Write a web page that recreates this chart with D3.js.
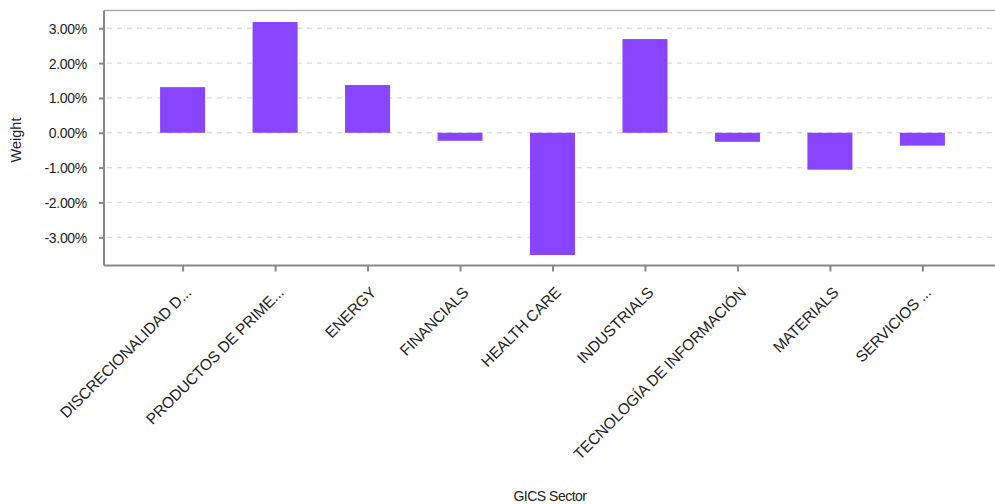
<!DOCTYPE html>
<html><head><meta charset="utf-8">
<script src="https://cdn.jsdelivr.net/npm/d3@7"></script>
<style>body{margin:0;background:#fff}svg{display:block}text{font-family:"Liberation Sans",Arial,sans-serif;fill:#222}</style>
</head><body>
<svg id="c" width="995" height="504"></svg>
<script>
const categories = ["DISCRECIONALIDAD D...","PRODUCTOS DE PRIME...","ENERGY","FINANCIALS","HEALTH CARE","INDUSTRIALS","TECNOLOGÍA DE INFORMACIÓN","MATERIALS","SERVICIOS ..."];
const weights = [1.31, 3.18, 1.37, -0.23, -3.51, 2.69, -0.26, -1.06, -0.37];
const yTicks = [3, 2, 1, 0, -1, -2, -3];

const svg = d3.select("#c");
const mLeft = 104, mRight = 1001, mTop = 10.5, mBottom = 265.5;
const x = d3.scalePoint().domain(categories).range([mLeft, mRight]).padding(0.85);
const y = d3.scaleLinear().domain([-3.81, 3.51]).range([mBottom, mTop]);
const barW = 45;

// grid
svg.append("g").selectAll("line").data(yTicks).join("line")
  .attr("x1", mLeft + 3).attr("x2", 995)
  .attr("y1", d => y(d)).attr("y2", d => y(d))
  .attr("stroke", "#dcdcdc").attr("stroke-width", 1.3).attr("stroke-dasharray", "5,5");

// top border
svg.append("line").attr("x1", mLeft).attr("x2", 995).attr("y1", mTop).attr("y2", mTop)
  .attr("stroke", "#aaa").attr("stroke-width", 1.5);

// bars
svg.append("g").selectAll("rect").data(weights).join("rect")
  .attr("x", (d, i) => x(categories[i]) - barW / 2)
  .attr("width", barW)
  .attr("y", d => y(Math.max(0, d)))
  .attr("height", d => Math.abs(y(d) - y(0)))
  .attr("fill", "#8844ff");

// y axis
const ya = svg.append("g").attr("transform", `translate(${mLeft},0)`)
  .call(d3.axisLeft(y).tickValues(yTicks).tickSize(5).tickPadding(12).tickFormat(d => d.toFixed(2) + "%"));
ya.select(".domain").attr("stroke", "#888").attr("stroke-width", 2).attr("d", `M0,${mTop}V${mBottom}`);
ya.selectAll(".tick line").attr("stroke", "#888").attr("stroke-width", 2);
ya.selectAll(".tick text").attr("font-size", 14).attr("fill", "#222").style("letter-spacing", "-0.3px").attr("dy", "0.35em");

// x axis
const xa = svg.append("g").attr("transform", `translate(0,${mBottom})`)
  .call(d3.axisBottom(x).tickSize(6).tickSizeOuter(0));
xa.select(".domain").attr("stroke", "#888").attr("stroke-width", 2).attr("d", `M${mLeft},0H995`);
xa.selectAll(".tick line").attr("stroke", "#888").attr("stroke-width", 2);
xa.selectAll(".tick text").attr("font-size", 15.5).attr("fill", "#222")
  .attr("text-anchor", "end").attr("dy", 0).attr("y", 0)
  .style("letter-spacing", "-0.2px")
  .attr("transform", "translate(9,28) rotate(-45)");

// axis titles
svg.append("text").attr("transform", "translate(21,140) rotate(-90)")
  .attr("text-anchor", "middle").attr("font-size", 14.5).text("Weight");
svg.append("text").attr("x", 550).attr("y", 501)
  .attr("text-anchor", "middle").attr("font-size", 14).style("letter-spacing", "-0.5px").text("GICS Sector");
</script>
</body></html>
